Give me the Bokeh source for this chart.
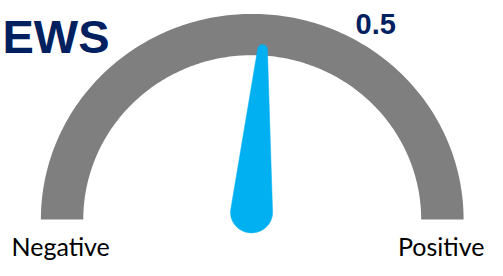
import numpy as np
from bokeh.plotting import figure
from bokeh.models import Range1d
from bokeh.core.properties import value
from bokeh.embed import file_html
from bokeh.resources import INLINE

# ---- data ----
title = ["EWS"]
gauge_min = -12.0
gauge_max = 12.0
gauge_value = 0.5
value_label = ["0.5"]
left_label = ["Negative"]
right_label = ["Positive"]

# ---- layout ----
W, H = 487, 260            # figure size in px (fits the 503x276 window with 8px margin)
REF_W, REF_H = 503, 276    # design space
SX, SY = W / REF_W, H / REF_H

def fx(X):
    return np.asarray(X) * SX

def fy(Y):
    return H - np.asarray(Y) * SY

# gauge geometry in design px (y down)
cx, cy = 260.0, 232.5
r_in, r_out = 174.5, 218.3
piv_x, piv_y = 259.3, 225.0
needle_len = 173.6
base_r, tip_r = 21.7, 5.0

NAVY = "#002060"
GREY = "#7F7F7F"
BLUE = "#00B0F0"

p = figure(width=W, height=H, x_range=Range1d(0, W), y_range=Range1d(0, H),
           output_backend="svg", toolbar_location=None, min_border=0)
p.axis.visible = False
p.grid.visible = False
p.outline_line_color = None
p.background_fill_color = "white"
p.border_fill_color = "white"

# gauge band (half annulus)
t_out = np.linspace(np.pi, 0, 200)
t_in = np.linspace(0, np.pi, 200)
bx = np.concatenate([cx + r_out * np.cos(t_out), cx + r_in * np.cos(t_in)])
by = np.concatenate([cy - r_out * np.sin(t_out), cy - r_in * np.sin(t_in)])
p.patch(fx(bx), fy(by), color=GREY, line_color=None)

# needle: angle from the value (pi at min, 0 at max), y-up maths then flipped
frac = (gauge_value - gauge_min) / (gauge_max - gauge_min)
alpha = np.pi - frac * np.pi
phi = np.arcsin((base_r - tip_r) / needle_len)
tx = piv_x + needle_len * np.cos(alpha)
ty = piv_y - needle_len * np.sin(alpha)
a1 = np.linspace(alpha + np.pi / 2 - phi, alpha + 3 * np.pi / 2 + phi, 90)
a2 = np.linspace(alpha - np.pi / 2 + phi, alpha + np.pi / 2 - phi, 40)
nx = np.concatenate([piv_x + base_r * np.cos(a1), tx + tip_r * np.cos(a2)])
ny = np.concatenate([piv_y - base_r * np.sin(a1), ty - tip_r * np.sin(a2)])
p.patch(fx(nx), fy(ny), color=BLUE, line_color=BLUE, line_width=0.5)

# texts (positions in figure px, y up)
p.text(x=[2], y=[H - 36], text=title, text_font=value("Liberation Sans"),
       text_font_style="bold", text_font_size="47px", text_color=NAVY,
       text_baseline="alphabetic", text_align="left")
p.text(x=[355], y=[H - 23], text=value_label, text_font=value("Liberation Sans"),
       text_font_style="bold", text_font_size="29px", text_color=NAVY,
       text_baseline="alphabetic", text_align="left")
p.text(x=[11], y=[H - 245], text=left_label, text_font=value("Lato"),
       text_font_size="25px", text_color="#000000",
       text_baseline="alphabetic", text_align="left")
p.text(x=[484], y=[H - 245], text=right_label, text_font=value("Lato"),
       text_font_size="25px", text_color="#000000",
       text_baseline="alphabetic", text_align="right")

open("out.html", "w").write(file_html(p, INLINE))
